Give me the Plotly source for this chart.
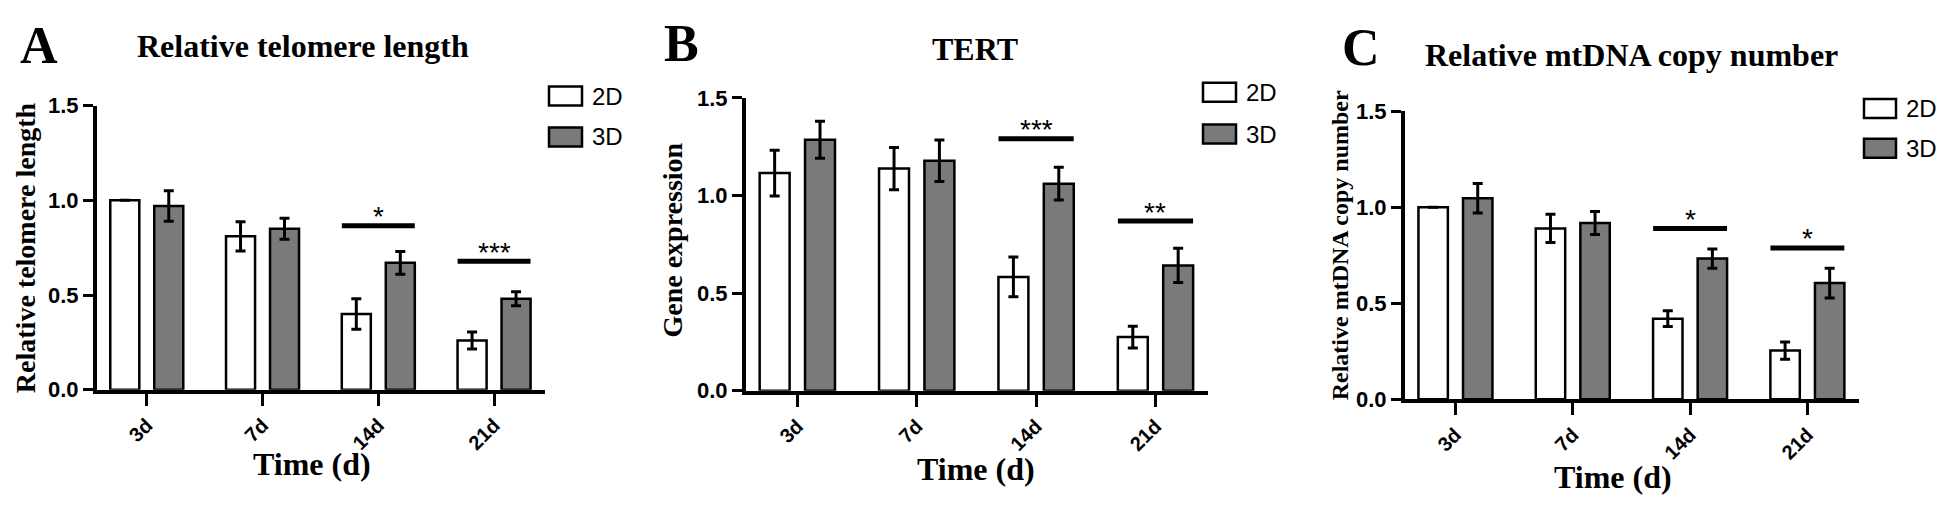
import plotly.graph_objects as go

W, H = 1946, 506

categories = ["3d", "7d", "14d", "21d"]

# Panel A: Relative telomere length
a_2d = [1.00, 0.81, 0.40, 0.26]
a_2d_err = [None, 0.077, 0.080, 0.045]
a_3d = [0.97, 0.85, 0.67, 0.48]
a_3d_err = [0.080, 0.055, 0.060, 0.037]
a_sig_cats = ["14d", "21d"]
a_sig_y = [0.865, 0.678]
a_sig_txt = ["*", "***"]

# Panel B: TERT gene expression
b_2d = [1.115, 1.138, 0.583, 0.275]
b_2d_err = [0.117, 0.108, 0.102, 0.056]
b_3d = [1.286, 1.178, 1.061, 0.642]
b_3d_err = [0.095, 0.106, 0.084, 0.088]
b_sig_cats = ["14d", "21d"]
b_sig_y = [1.291, 0.869]
b_sig_txt = ["***", "**"]

# Panel C: Relative mtDNA copy number
c_2d = [1.00, 0.89, 0.42, 0.254]
c_2d_err = [None, 0.074, 0.041, 0.045]
c_3d = [1.047, 0.918, 0.733, 0.605]
c_3d_err = [0.077, 0.060, 0.050, 0.077]
c_sig_cats = ["14d", "21d"]
c_sig_y = [0.890, 0.788]
c_sig_txt = ["*", "*"]

y_ticks = [0.0, 0.5, 1.0, 1.5]
y_tick_labels = ["0.0", "0.5", "1.0", "1.5"]

panel_letters = ["A", "B", "C"]
panel_titles = ["Relative telomere length", "TERT", "Relative mtDNA copy number"]
y_titles = ["Relative telomere length", "Gene expression", "Relative mtDNA copy number"]
x_title = "Time (d)"
series_names = ["2D", "3D"]

GRAY = "#7a7a7a"
SERIF = "Liberation Serif"
SANS = "Liberation Sans"


def px(x):
    return x / W


def py(y):
    return 1 - y / H


# pixel geometry for each panel: (x_left, x_right, y_top, y_bottom)
geom = [(89, 537, 90, 389), (738, 1200, 82, 390), (1397, 1851, 96, 399)]

panels = [
    (a_2d, a_2d_err, a_3d, a_3d_err, a_sig_cats, a_sig_y, a_sig_txt),
    (b_2d, b_2d_err, b_3d, b_3d_err, b_sig_cats, b_sig_y, b_sig_txt),
    (c_2d, c_2d_err, c_3d, c_3d_err, c_sig_cats, c_sig_y, c_sig_txt),
]

fig = go.Figure()
shapes = []
annotations = []

letter_pos = [(31, 27), (673, 25), (1353, 29)]
title_pos = [(295, 27), (967, 30), (1623, 37)]
ytitle_pos = [(17, 240, 28), (665, 232, 28), (1332, 237, 24)]
xtitle_pos = [(304, 467), (968, 472), (1605, 481)]
legend_pos = [(541, 574, 80, 123), (1195, 1228, 76, 120), (1856, 1888, 93, 135)]

for i, (v2, e2, v3, e3, scats, sy, stxt) in enumerate(panels):
    n = "" if i == 0 else str(i + 1)
    xa = "x" + n
    ya = "y" + n
    x0, x1, y0, y1 = geom[i]
    for name, vals, errs, fill in [(series_names[0], v2, e2, "white"), (series_names[1], v3, e3, GRAY)]:
        fig.add_trace(go.Bar(
            x=categories, y=vals, name=name, xaxis=xa, yaxis=ya,
            marker=dict(color=fill, line=dict(color="black", width=2.5)),
            error_y=dict(type="data", array=errs, visible=True, color="black",
                         thickness=3, width=5),
            showlegend=False,
        ))
    axis_common = dict(showline=True, linecolor="black", linewidth=4, ticks="outside",
                       tickcolor="black", tickwidth=3, showgrid=False, zeroline=False)
    fig.update_layout(**{
        ("xaxis" + n): dict(domain=[px(x0), px(x1)], anchor=ya, type="category",
                            categoryorder="array", categoryarray=categories,
                            range=[-0.43, 3.44], tickangle=-45, ticklen=12,
                            tickfont=dict(family=SANS, size=20, color="black", weight="bold"),
                            **axis_common),
        ("yaxis" + n): dict(domain=[py(y1), py(y0)], anchor=xa, range=[0, 1.5],
                            tickvals=y_ticks, ticktext=y_tick_labels, ticklen=10,
                            tickfont=dict(family=SANS, size=22, color="black", weight="bold"),
                            **axis_common),
    })
    # significance lines + stars
    for c, yv, t in zip(scats, sy, stxt):
        ci = categories.index(c)
        shapes.append(dict(type="line", xref=xa, yref=ya, x0=ci - 0.315, x1=ci + 0.315,
                           y0=yv, y1=yv, line=dict(color="black", width=5)))
        annotations.append(dict(x=ci, y=yv, xref=xa, yref=ya, text=t, showarrow=False,
                                xanchor="center", yanchor="middle", yshift=9,
                                font=dict(family=SANS, size=28, color="black")))
    # panel letter
    lx, ly = letter_pos[i]
    annotations.append(dict(x=px(lx), y=py(ly), xref="paper", yref="paper",
                            text=panel_letters[i], showarrow=False, xanchor="center", yanchor="middle",
                            font=dict(family=SERIF, size=52, color="black", weight="bold")))
    tx, ty = title_pos[i]
    annotations.append(dict(x=px(tx), y=py(ty), xref="paper", yref="paper",
                            text=panel_titles[i], showarrow=False, xanchor="center", yanchor="middle",
                            font=dict(family=SERIF, size=32, color="black", weight="bold")))
    yx, yy, ys = ytitle_pos[i]
    annotations.append(dict(x=px(yx), y=py(yy), xref="paper", yref="paper",
                            text=y_titles[i], showarrow=False, textangle=-90,
                            xanchor="center", yanchor="middle",
                            font=dict(family=SERIF, size=ys, color="black", weight="bold")))
    xx, xy = xtitle_pos[i]
    annotations.append(dict(x=px(xx), y=py(xy), xref="paper", yref="paper",
                            text=x_title, showarrow=False, xanchor="center", yanchor="middle",
                            font=dict(family=SERIF, size=32, color="black", weight="bold")))
    # legend
    bx0, bx1, l1, l2 = legend_pos[i]
    for (yc, fill, lab) in [(l1, "white", series_names[0]), (l2, GRAY, series_names[1])]:
        shapes.append(dict(type="rect", xref="paper", yref="paper",
                           x0=px(bx0), x1=px(bx1), y0=py(yc - 10), y1=py(yc + 10),
                           fillcolor=fill, line=dict(color="black", width=2.5)))
        annotations.append(dict(x=px(bx1 + 8), y=py(yc), xref="paper", yref="paper",
                                text=lab, showarrow=False, xanchor="left", yanchor="middle",
                                font=dict(family=SANS, size=24, color="black")))

fig.update_layout(
    width=W, height=H, autosize=False,
    margin=dict(l=0, r=0, t=0, b=0),
    paper_bgcolor="white", plot_bgcolor="white",
    barmode="group", bargap=0.24, bargroupgap=0.34,
    shapes=shapes, annotations=annotations, showlegend=False,
)

fig.write_html("out.html")
